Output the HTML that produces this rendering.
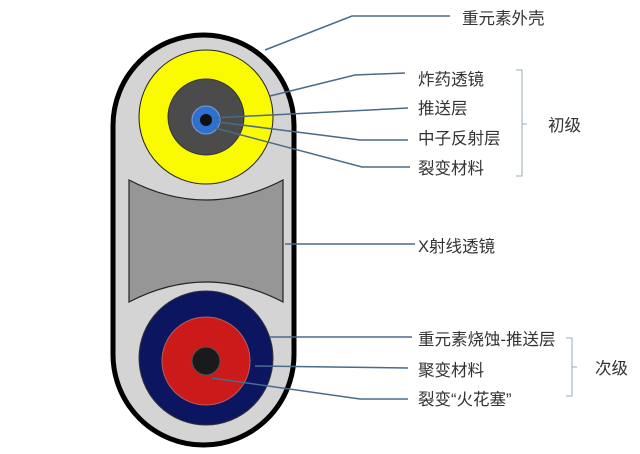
<!DOCTYPE html>
<html><head><meta charset="utf-8"><style>
body{margin:0;background:#fff;}
svg text{font-family:"Liberation Sans","Noto Sans CJK SC",sans-serif;font-size:16.5px;fill:#333;}
</style></head><body>
<svg width="640" height="449" viewBox="0 0 640 449" xmlns="http://www.w3.org/2000/svg">
<rect x="113" y="35" width="181" height="410" rx="90.5" fill="#d4d4d4" stroke="#000" stroke-width="5"/>
<circle cx="206" cy="117" r="67" fill="#fafa00" stroke="#222" stroke-width="1"/>
<circle cx="206" cy="117" r="38" fill="#4b4b4b" stroke="#333"/>
<circle cx="206" cy="120" r="14" fill="#2f6fd0" stroke="#7aa0d8"/>
<circle cx="206" cy="120" r="6" fill="#111"/>
<path d="M129 180 Q206 220 283 180 L283 302 Q206 262 129 302 Z" fill="#969696" stroke="#222" stroke-width="1.2"/>
<circle cx="206" cy="358" r="67" fill="#0c1560" stroke="#333"/>
<circle cx="206" cy="361" r="44" fill="#cc1a1a" stroke="#b06060"/>
<circle cx="206" cy="361" r="14" fill="#1a1a1a" stroke="#555"/>
<g stroke="#4a6a8a" stroke-width="1.5" fill="none">
<polyline points="265,50 352,16 450,16"/>
<polyline points="270,96 355,75 405,73"/>
<polyline points="212,118 408,108"/>
<polyline points="218,122 360,140 408,140"/>
<polyline points="215,128 362,167 410,167"/>
<polyline points="285,244 415,244"/>
<polyline points="270,337 412,337"/>
<polyline points="255,366 408,368"/>
<polyline points="212,378 360,399 408,399"/>
</g>
<g stroke="#9ab" stroke-width="1" fill="none">
<path d="M516 70 L522 70 L522 176 L516 176 M522 124 L527 124"/>
<path d="M566 338 L572 338 L572 396 L566 396 M572 367 L577 367"/>
</g>
<text x="462" y="24">重元素外壳</text>
<text x="418" y="85">炸药透镜</text>
<text x="418" y="114">推送层</text>
<text x="418" y="144">中子反射层</text>
<text x="418" y="174">裂变材料</text>
<text x="548" y="131">初级</text>
<text x="418" y="252">X射线透镜</text>
<text x="418" y="345">重元素烧蚀-推送层</text>
<text x="418" y="376">聚变材料</text>
<text x="418" y="405">裂变“火花塞”</text>
<text x="595" y="374">次级</text>
</svg>
</body></html>
